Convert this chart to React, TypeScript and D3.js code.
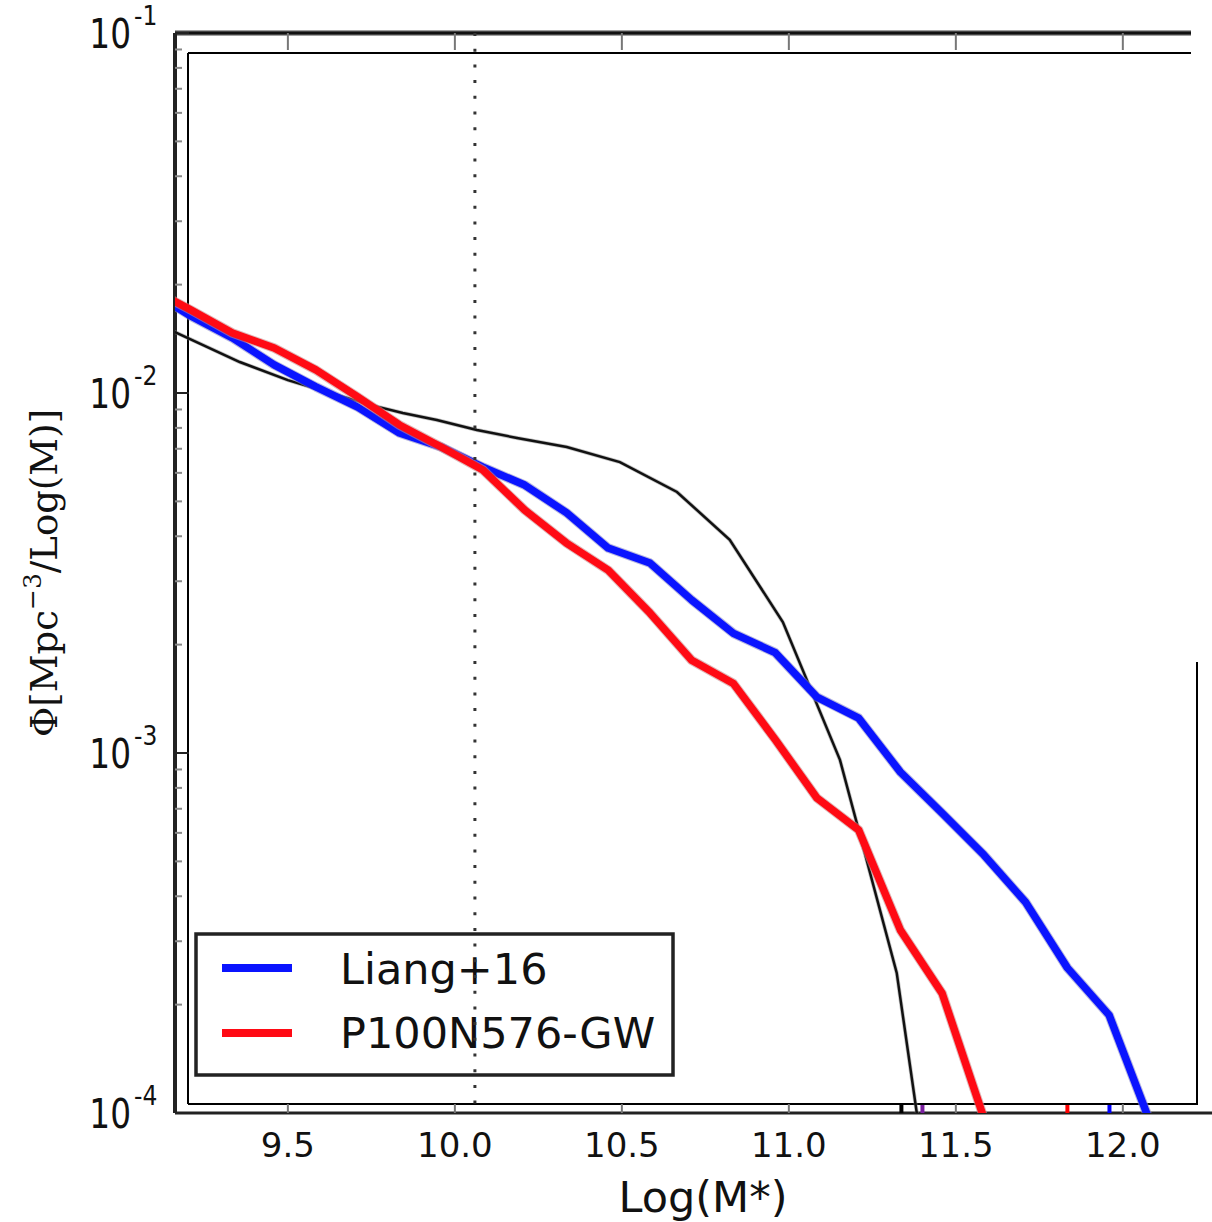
import React from "react";
import * as d3 from "d3";

// ---- data ----
const binMass = [9.084, 9.209, 9.334, 9.459, 9.584, 9.709, 9.834, 9.959, 10.084, 10.209, 10.334, 10.459, 10.584, 10.709, 10.834, 10.959, 11.084, 11.209, 11.334, 11.459, 11.584, 11.709, 11.834, 11.959, 12.084];
const liangPhi = [0.0193, 0.01637, 0.01422, 0.01197, 0.0104, 0.00914, 0.00774, 0.00708, 0.00622, 0.00555, 0.00465, 0.00371, 0.00337, 0.00266, 0.00215, 0.0019, 0.00143, 0.00125, 0.000885, 0.000681, 0.000521, 0.000385, 0.000253, 0.000187, 0.0000931];
const p100Phi = [0.0196, 0.01702, 0.01468, 0.01334, 0.01159, 0.00975, 0.00815, 0.00708, 0.00611, 0.00473, 0.00383, 0.00322, 0.00245, 0.00181, 0.00156, 0.00109, 0.00075, 0.000611, 0.000322, 0.000215, 0.0000968];
const obsMass = [9.1, 9.162, 9.246, 9.356, 9.5, 9.647, 9.746, 9.844, 9.946, 10.066, 10.186, 10.335, 10.494, 10.665, 10.823, 10.982, 11.153, 11.323, 11.407];
const obsPhi = [0.0158, 0.01476, 0.01359, 0.01219, 0.01086, 0.00987, 0.00927, 0.0088, 0.00841, 0.00789, 0.0075, 0.00708, 0.00643, 0.00531, 0.00391, 0.00231, 0.000957, 0.000245, 0.00007];
const xTicks = [9.5, 10.0, 10.5, 11.0, 11.5, 12.0];
const xTickLabels = ["9.5", "10.0", "10.5", "11.0", "11.5", "12.0"];
const yTicks = [1e-4, 1e-3, 1e-2, 1e-1];
const yTickExps = ["-4", "-3", "-2", "-1"];
const cutMass = 10.06;
const rugMass = [11.337, 11.40, 11.834, 11.96];
const rugColors = ["#000000", "#7a1fa0", "#ff0000", "#0000ff"];
const seriesNames = ["Liang+16", "P100N576-GW"];
const seriesColors = ["#0a14ff", "#ff0a14"];

export default function App() {
  const xScale = d3.scaleLinear().domain([9.162, 12.267]).range([175, 1212]);
  const yScale = d3.scaleLog().domain([1e-4, 1e-1]).range([1113, 33]);
  const L = 175, T = 33, B = 1113, R = 1212;
  const line = d3.line<[number, number]>().x(d => xScale(d[0])).y(d => yScale(d[1]));
  const liang = line(binMass.slice(0, liangPhi.length).map((m, i) => [m, liangPhi[i]]));
  const p100 = line(binMass.slice(0, p100Phi.length).map((m, i) => [m, p100Phi[i]]));
  const obs = line(obsMass.map((m, i) => [m, obsPhi[i]]));

  const minor: number[] = [];
  for (let e = -4; e < -1; e++) for (let k = 2; k <= 9; k++) minor.push(k * Math.pow(10, e));

  const cx = xScale(cutMass);
  return (
    <svg width={1212} height={1222} style={{ position: "absolute", left: 0, top: 0, background: "#fff" }} fontFamily="'DejaVu Sans', sans-serif">
      <defs>
        <clipPath id="plotclip"><rect x={L} y={T} width={R - L} height={B - T} /></clipPath>
      </defs>
      {/* inner frame */}
      <line x1={188} y1={53} x2={1191} y2={53} stroke="#000" strokeWidth={2} />
      <line x1={188} y1={53} x2={188} y2={1104} stroke="#000" strokeWidth={2} />
      <line x1={188} y1={1104} x2={1198} y2={1104} stroke="#000" strokeWidth={2} />
      <line x1={1197} y1={662} x2={1197} y2={1104} stroke="#000" strokeWidth={2} />
      {/* outer frame */}
      <line x1={L} y1={T} x2={1191} y2={T} stroke="#444" strokeWidth={5} />
      <line x1={L} y1={T} x2={1191} y2={T} stroke="#111" strokeWidth={2} />
      <line x1={L} y1={T} x2={L} y2={B} stroke="#222" strokeWidth={4} />
      <line x1={L} y1={B} x2={R} y2={B} stroke="#222" strokeWidth={3} />
      {/* top ticks */}
      {xTicks.map((t, i) => (
        <line key={"tt" + i} x1={xScale(t)} x2={xScale(t)} y1={T} y2={T + 17} stroke="#777" strokeWidth={2} />
      ))}
      {/* bottom ticks */}
      {xTicks.map((t, i) => (
        <line key={"bt" + i} x1={xScale(t)} x2={xScale(t)} y1={B} y2={B - 9} stroke="#777" strokeWidth={2} />
      ))}
      {/* left minor ticks */}
      {minor.map((v, i) => (
        <line key={"mt" + i} x1={L} x2={L + 7} y1={yScale(v)} y2={yScale(v)} stroke="#888" strokeWidth={2} />
      ))}
      {yTicks.map((v, i) => (
        <line key={"yt" + i} x1={L} x2={189} y1={yScale(v)} y2={yScale(v)} stroke="#222" strokeWidth={2} />
      ))}
      {/* rug marks */}
      {rugMass.map((m, i) => (
        <line key={"rg" + i} x1={xScale(m)} x2={xScale(m)} y1={1105} y2={B} stroke={rugColors[i]} strokeWidth={4} />
      ))}
      {/* curves */}
      <g clipPath="url(#plotclip)">
        <path d={obs || ""} fill="none" stroke="#888" strokeWidth={4} opacity={0.5} />
        <path d={obs || ""} fill="none" stroke="#111" strokeWidth={2.5} />
        <path d={liang || ""} fill="none" stroke="#8888cc" strokeWidth={9.5} strokeLinejoin="round" opacity={0.6} />
        <path d={liang || ""} fill="none" stroke={seriesColors[0]} strokeWidth={7.5} strokeLinejoin="round" />
        <path d={p100 || ""} fill="none" stroke="#cc8888" strokeWidth={9.5} strokeLinejoin="round" opacity={0.6} />
        <path d={p100 || ""} fill="none" stroke={seriesColors[1]} strokeWidth={7.5} strokeLinejoin="round" />
      </g>
      {/* legend */}
      <rect x={196} y={934} width={477} height={141} fill="none" stroke="#222" strokeWidth={3.5} />
      {seriesNames.map((n, i) => (
        <g key={"lg" + i}>
          <line x1={222} x2={292} y1={968 + i * 65} y2={968 + i * 65} stroke={seriesColors[i]} strokeWidth={8} />
          <text x={340} y={984 + i * 64} fontSize={43} fill="#111">{n}</text>
        </g>
      ))}
      {/* dotted cut line */}
      <line x1={cx} x2={cx} y1={T} y2={B} stroke="#333" strokeWidth={3} strokeDasharray="3,12.7" />
      {/* x tick labels */}
      {xTicks.map((t, i) => (
        <text key={"xl" + i} x={xScale(t)} y={1157} fontSize={34} textAnchor="middle" fill="#111">{xTickLabels[i]}</text>
      ))}
      {/* y tick labels */}
      {yTicks.map((v, i) => (
        <g key={"yl" + i} transform={`translate(0,${yScale(v)})`}>
          <text transform="translate(131,15) scale(0.82,1)" fontSize={40} textAnchor="end" fill="#111">10</text>
          <text transform="translate(134,-8) scale(0.9,1)" fontSize={26} fill="#111">{yTickExps[i]}</text>
        </g>
      ))}
      {/* axis labels */}
      <text x={703} y={1212} fontSize={43} textAnchor="middle" fill="#111">Log(M*)</text>
      <text transform="translate(57,573) rotate(-90)" textAnchor="middle" fontSize={37} fontFamily="'DejaVu Serif', serif" fill="#111">
        <tspan>Φ[Mpc</tspan>
        <tspan fontSize={25} dy={-16}>−3</tspan>
        <tspan dy={16}>/Log(M)]</tspan>
      </text>
    </svg>
  );
}
